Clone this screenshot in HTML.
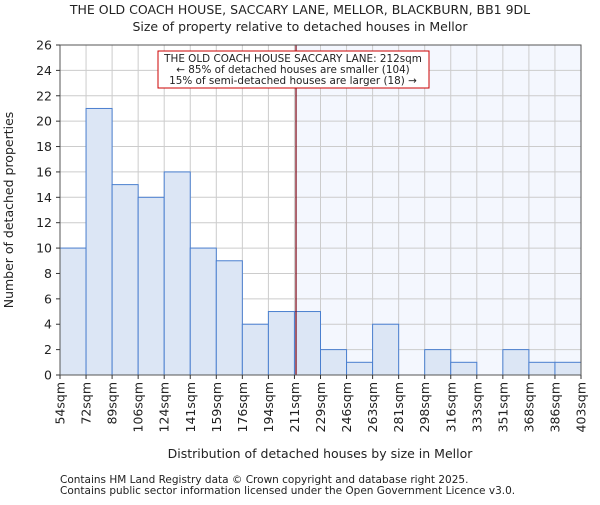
<!DOCTYPE html>
<html><head><meta charset="utf-8"><style>body{margin:0;background:#fff}svg text{font-family:"DejaVu Sans","Liberation Sans",sans-serif;fill:#222}</style></head>
<body>
<svg id="c" width="600" height="500" xmlns="http://www.w3.org/2000/svg"></svg>
<script>
const binLabels=["54sqm","72sqm","89sqm","106sqm","124sqm","141sqm","159sqm","176sqm","194sqm","211sqm","229sqm","246sqm","263sqm","281sqm","298sqm","316sqm","333sqm","351sqm","368sqm","386sqm","403sqm"];
const counts=[10,21,15,14,16,10,9,4,5,5,2,1,4,0,2,1,0,2,1,1];
const yTicks=[0,2,4,6,8,10,12,14,16,18,20,22,24,26];
const markerBin=9.06;
const svg=document.getElementById('c');const NS="http://www.w3.org/2000/svg";
const L=60,R=581,T=45,B=375,yMax=26;
const xs=i=>L+i*(R-L)/counts.length;
const ys=v=>B-v*(B-T)/yMax;
function add(tag,at,parent){const e=document.createElementNS(NS,tag);for(const k in at)e.setAttribute(k,at[k]);(parent||svg).appendChild(e);return e;}
function txt(s,at){const e=add('text',at);e.textContent=s;return e;}
let e;
e=add('rect',{x:xs(markerBin),y:T,width:R-xs(markerBin),height:B-T,fill:'#f4f7fe'});

yTicks.forEach(v=>{e=add('line',{x1:L,x2:R,y1:ys(v),y2:ys(v),stroke:'#ccc','stroke-width':1});
});
for(let i=0;i<=counts.length;i++){e=add('line',{x1:xs(i),x2:xs(i),y1:T,y2:B,stroke:'#ccc','stroke-width':1});
}
counts.forEach((v,i)=>{if(!v)return;e=add('rect',{x:xs(i),y:ys(v),width:xs(i+1)-xs(i),height:B-ys(v),fill:'#dce6f5',stroke:'#4a7fcf','stroke-width':1});
});
e=add('line',{x1:xs(markerBin),x2:xs(markerBin),y1:T,y2:B,stroke:'#7a0010','stroke-width':1.2});

e=add('rect',{x:L,y:T,width:R-L,height:B-T,fill:'none',stroke:'#555','stroke-width':1});

yTicks.forEach(v=>{e=txt(v,{x:L-8,y:ys(v)+4.5,'text-anchor':'end','font-size':12.5});

add('line',{x1:L-4,x2:L,y1:ys(v),y2:ys(v),stroke:'#333'});});
binLabels.forEach((s,i)=>{const x=xs(i);add('line',{x1:x,x2:x,y1:B,y2:B+4,stroke:'#333'});
e=txt(s,{x:0,y:0,'text-anchor':'end','font-size':12.5,transform:`translate(${x+4.5},${B+7}) rotate(-90)`});
});
e=add('rect',{x:158,y:51,width:271,height:37,fill:'#fff',stroke:'#c00','stroke-width':1});

["THE OLD COACH HOUSE SACCARY LANE: 212sqm","← 85% of detached houses are smaller (104)","15% of semi-detached houses are larger (18) →"].forEach((s,i)=>{
e=txt(s,{x:293,y:62+i*11,'text-anchor':'middle','font-size':10.4});
});
e=txt("THE OLD COACH HOUSE, SACCARY LANE, MELLOR, BLACKBURN, BB1 9DL",{x:300,y:14,'text-anchor':'middle','font-size':12.5});

e=txt("Size of property relative to detached houses in Mellor",{x:300,y:31,'text-anchor':'middle','font-size':12.5});

e=txt("Distribution of detached houses by size in Mellor",{x:320,y:458,'text-anchor':'middle','font-size':12.5});

e=txt("Number of detached properties",{x:0,y:0,'text-anchor':'middle','font-size':12.5,transform:'translate(13,210) rotate(-90)'});

e=txt("Contains HM Land Registry data © Crown copyright and database right 2025.",{x:60,y:483,'font-size':10.5,fill:'#444'});

e=txt("Contains public sector information licensed under the Open Government Licence v3.0.",{x:60,y:494,'font-size':10.5});

</script>
</body></html>
